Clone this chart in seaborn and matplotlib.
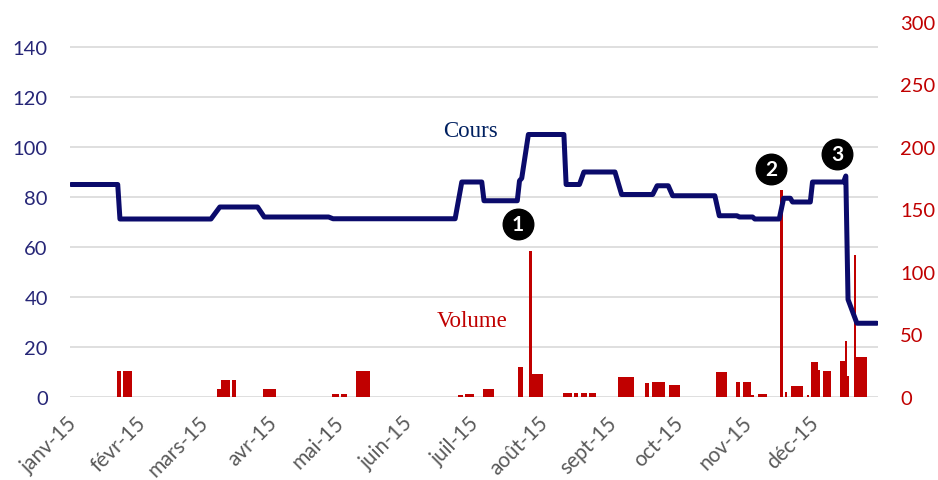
import pandas as pd
import numpy as np
import matplotlib
matplotlib.use('Agg')
import matplotlib.pyplot as plt
import matplotlib.dates as mdates
import matplotlib.transforms as mtransforms
import seaborn as sns

# --- données ---
# cours (axe gauche) : points de rupture de la courbe
price_dates = ['2015-01-01', '2015-01-22', '2015-01-23', '2015-03-05', '2015-03-09',
               '2015-03-26', '2015-03-29', '2015-04-27', '2015-04-29', '2015-06-23',
               '2015-06-26', '2015-07-05', '2015-07-06', '2015-07-21', '2015-07-22',
               '2015-07-23', '2015-07-26', '2015-08-11', '2015-08-12', '2015-08-18',
               '2015-08-20', '2015-09-03', '2015-09-06', '2015-09-20', '2015-09-22',
               '2015-09-27', '2015-09-29', '2015-10-18', '2015-10-20', '2015-10-28',
               '2015-10-29', '2015-11-04', '2015-11-05', '2015-11-16', '2015-11-18',
               '2015-11-21', '2015-11-22', '2015-11-30', '2015-12-01', '2015-12-15',
               '2015-12-16', '2015-12-17', '2015-12-21', '2015-12-30']
price_values = [85, 85, 71.2, 71.2, 76,
                76, 72, 72, 71.3, 71.3,
                86, 86, 78.5, 78.5, 86.5,
                87.5, 105, 105, 85, 85,
                90, 90, 81, 81, 84.5,
                84.5, 80.5, 80.5, 72.5, 72.5,
                72, 72, 71.2, 71.2, 79.5,
                79.5, 78, 78, 86, 86,
                88.4, 39, 29.5, 29.5]

# volume (axe droit) : blocs de jours consécutifs
vol_start = ['2015-01-22', '2015-01-25', '2015-03-08', '2015-03-10', '2015-03-15',
             '2015-03-29', '2015-04-29', '2015-05-03', '2015-05-10', '2015-06-25',
             '2015-06-28', '2015-07-06', '2015-07-22', '2015-07-27', '2015-07-28',
             '2015-08-11', '2015-08-16', '2015-08-19', '2015-08-23', '2015-09-05',
             '2015-09-17', '2015-09-20', '2015-09-28', '2015-10-19', '2015-10-28',
             '2015-10-31', '2015-11-04', '2015-11-07', '2015-11-17', '2015-11-19',
             '2015-11-22', '2015-11-29', '2015-12-01', '2015-12-04', '2015-12-06',
             '2015-12-14', '2015-12-16', '2015-12-17', '2015-12-20', '2015-12-21']
vol_end = ['2015-01-23', '2015-01-28', '2015-03-09', '2015-03-13', '2015-03-16',
           '2015-04-03', '2015-05-01', '2015-05-05', '2015-05-15', '2015-06-26',
           '2015-07-01', '2015-07-10', '2015-07-23', '2015-07-27', '2015-08-01',
           '2015-08-14', '2015-08-17', '2015-08-21', '2015-08-25', '2015-09-11',
           '2015-09-18', '2015-09-25', '2015-10-02', '2015-10-23', '2015-10-29',
           '2015-11-03', '2015-11-04', '2015-11-10', '2015-11-17', '2015-11-19',
           '2015-11-26', '2015-11-29', '2015-12-03', '2015-12-04', '2015-12-09',
           '2015-12-15', '2015-12-16', '2015-12-17', '2015-12-20', '2015-12-25']
vol_values = [21, 21, 6.5, 13.5, 13.5,
              6.4, 2.4, 2.4, 21, 2,
              2.4, 6.4, 24, 117, 18.4,
              3, 3, 3, 3, 16,
              11, 12, 10, 20, 12,
              12, 2, 2.4, 166, 4,
              9, 2, 28, 22, 21,
              29, 45, 17, 114, 32]

month_labels = ['janv-15', 'févr-15', 'mars-15', 'avr-15', 'mai-15', 'juin-15',
                'juil-15', 'août-15', 'sept-15', 'oct-15', 'nov-15', 'déc-15']

# --- style ---
sns.set_theme(style='white')
plt.rcParams['font.family'] = ['Lato', 'DejaVu Sans']

navy = '#0B0B6B'
red = '#C00000'

fig = plt.figure(figsize=(9.38, 4.81), dpi=100)
ax = fig.add_axes([70 / 938, 1 - 398 / 481, 808 / 938, 375 / 481])
axv = ax.twinx()
ax.set_zorder(2)
axv.set_zorder(1)
ax.patch.set_visible(False)

# barres de volume
starts = pd.to_datetime(vol_start)
ends = pd.to_datetime(vol_end)
left = mdates.date2num(starts) - 0.5
widths = (ends - starts).days + 1
axv.bar(left, vol_values, width=widths, align='edge', color=red, linewidth=0, zorder=2)

# grille (graduations de l'axe gauche), sous les barres
trans = mtransforms.blended_transform_factory(axv.transAxes, ax.transData)
for v in range(0, 141, 20):
    axv.plot([0, 1], [v, v], transform=trans, color='#D9D9D9', lw=1.2, zorder=0)

# courbe du cours
sns.lineplot(x=pd.to_datetime(price_dates), y=price_values, ax=ax, color=navy,
             linewidth=3.6, sort=False)

# annotations
ax.text(0.496, 0.71, 'Cours', transform=ax.transAxes, family='Liberation Serif',
        fontsize=16.5, color='#002060', ha='center', va='center')
ax.text(0.4975, 0.205, 'Volume', transform=ax.transAxes, family='Liberation Serif',
        fontsize=16.5, color=red, ha='center', va='center')
for num, (px, py) in zip(['1', '2', '3'], [(518, 225), (771, 170), (837, 155)]):
    xa, ya = (px - 70) / 808, (398 - py) / 375
    ax.plot([xa], [ya], 'o', ms=22, color='black', transform=ax.transAxes,
            clip_on=False, zorder=6)
    ax.text(xa, ya, num, transform=ax.transAxes, color='white', fontsize=15,
            fontweight='bold', ha='center', va='center', zorder=7)

# axes
ax.set_xlim(pd.Timestamp('2014-12-31 12:00'), pd.Timestamp('2015-12-30 12:00'))
ax.set_ylim(0, 150)
axv.set_ylim(0, 300)
ax.set_yticks(range(0, 141, 20))
axv.set_yticks(range(0, 301, 50))
ax.set_xticks(pd.date_range('2015-01-01', periods=12, freq='MS'))
ax.set_xticklabels(month_labels)
ax.set_xlabel('')
ax.set_ylabel('')

for a in (ax, axv):
    for s in a.spines.values():
        s.set_visible(False)
ax.tick_params(axis='y', length=0, pad=16, labelsize=14.5, labelcolor='#262677')
axv.tick_params(axis='y', length=0, pad=16, labelsize=14.5, labelcolor=red)
ax.tick_params(axis='x', length=0, pad=16, labelsize=15, labelcolor='#595959')

offset = mtransforms.ScaledTranslation(3 / 100, 0, fig.dpi_scale_trans)
for lbl in ax.get_xticklabels():
    lbl.set_rotation(45)
    lbl.set_ha('right')
    lbl.set_va('center')
    lbl.set_rotation_mode('anchor')
    lbl.set_transform(lbl.get_transform() + offset)

fig.savefig('out.png', dpi=100, facecolor='white')
